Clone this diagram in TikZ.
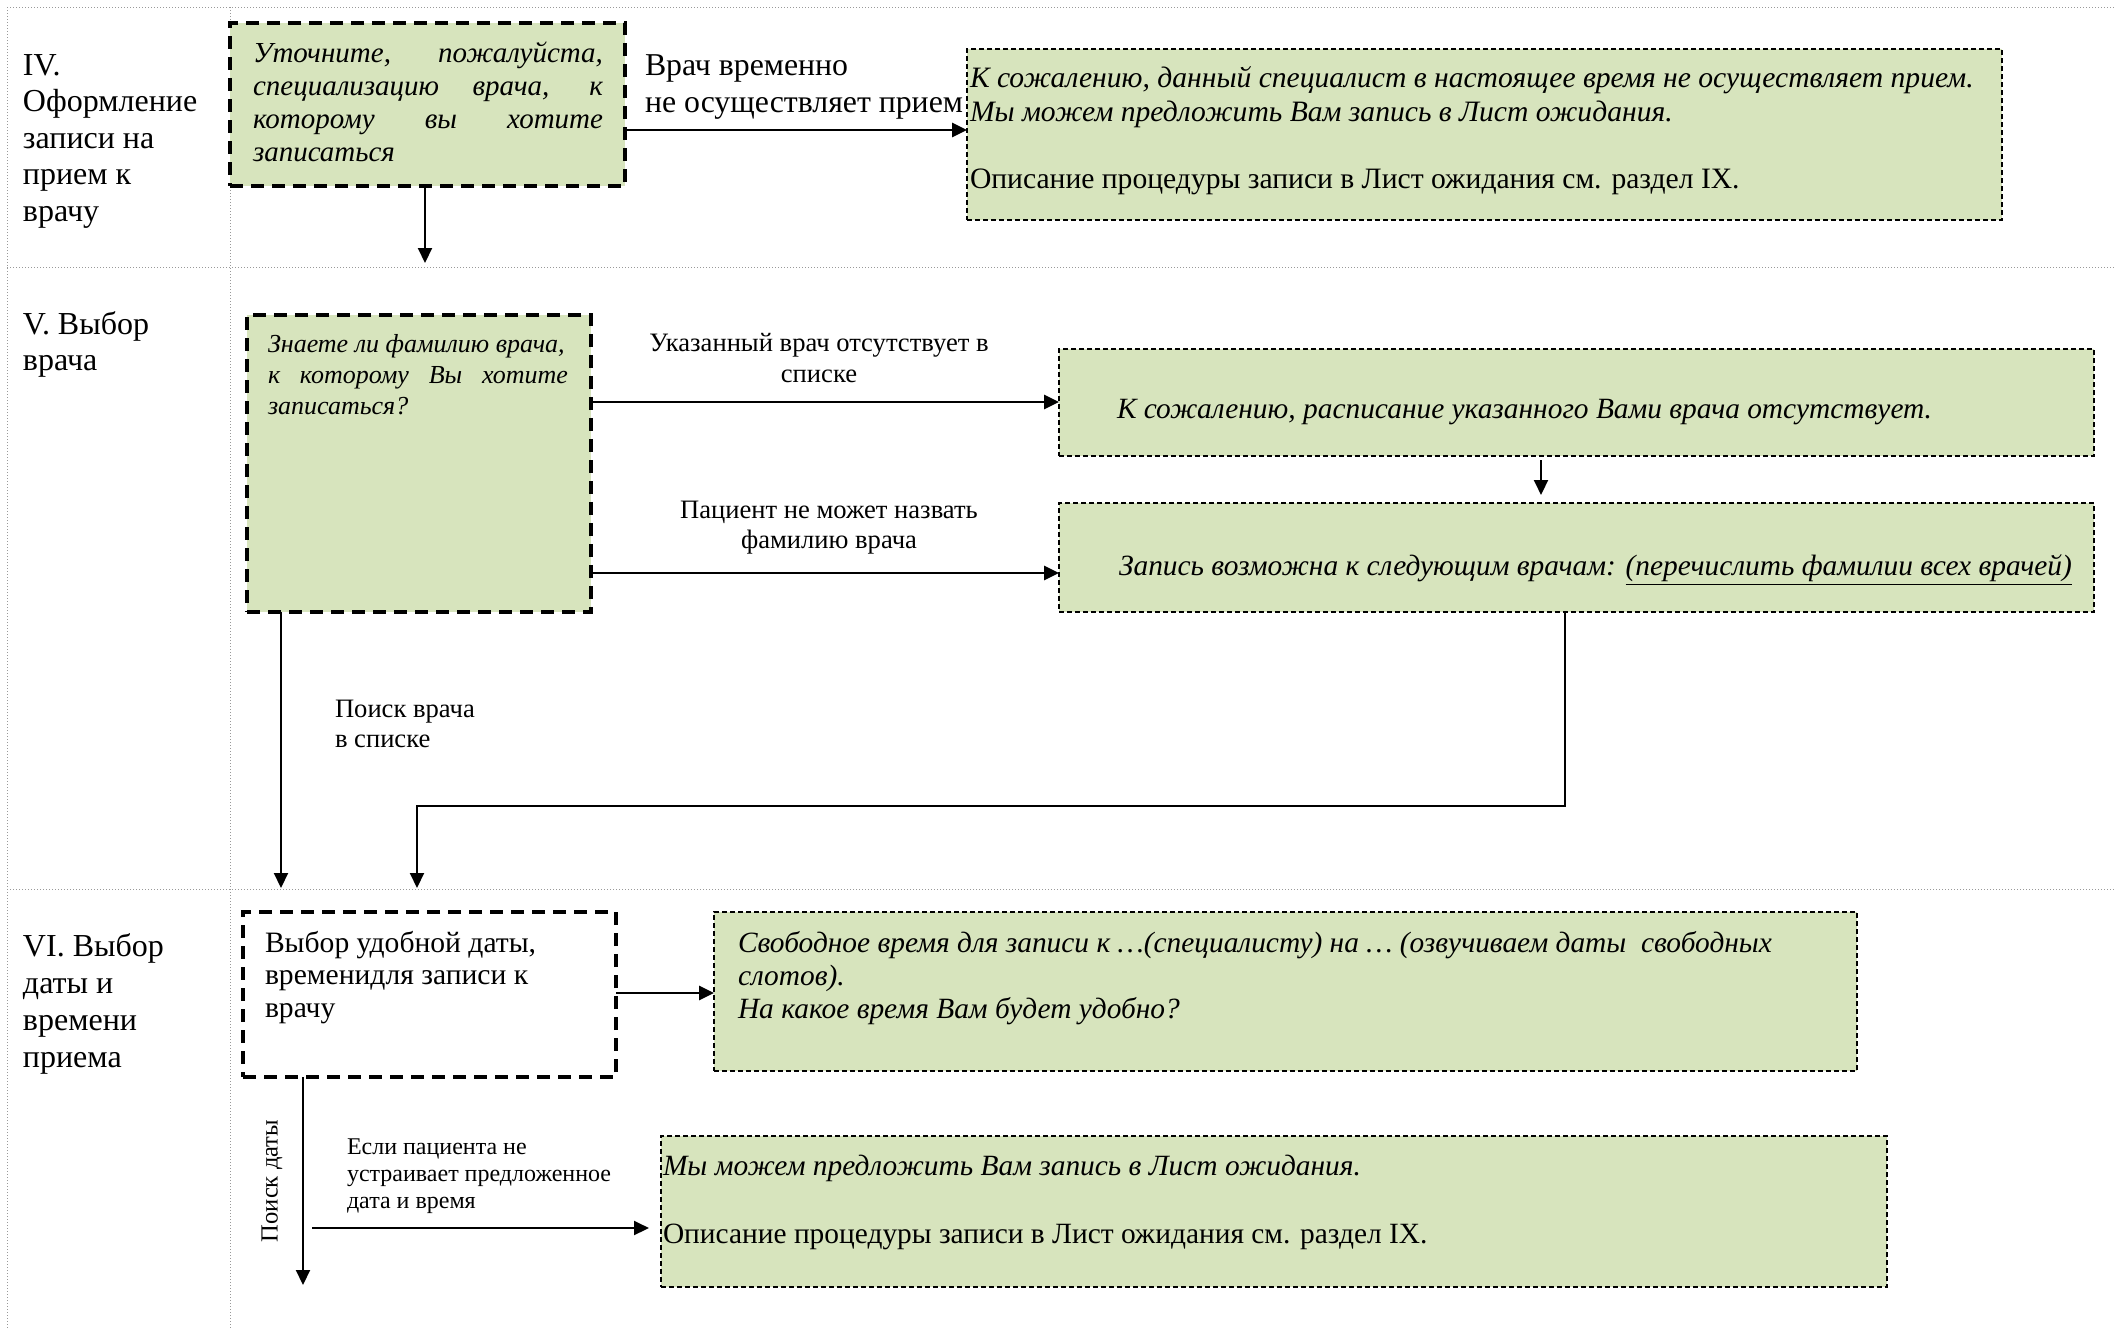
\documentclass[tikz,border=0pt]{standalone}
\usepackage{fontspec}
\setmainfont{Liberation Serif}
\usetikzlibrary{arrows.meta,fit}
\definecolor{boxgreen}{HTML}{D7E4BD}
\newcommand{\fsz}[2]{\fontsize{#1}{#2}\selectfont}

\begin{document}
\begin{tikzpicture}[x=0.5pt,y=-0.5pt,
  gridline/.style={draw=gray!80, line width=0.5pt, densely dotted},
  boldbox/.style={draw=black, line width=1.75pt, dash pattern=on 6.5pt off 4pt, inner sep=0pt, outer sep=0pt},
  thinbox/.style={draw=black, line width=0.75pt, dash pattern=on 2.5pt off 1.5pt, inner sep=0pt, outer sep=0pt, fill=boxgreen},
  txt/.style={anchor=base west, inner sep=0pt, outer sep=0pt},
  ctxt/.style={anchor=base, inner sep=0pt, outer sep=0pt},
  arr/.style={-{Triangle[length=7.5pt,width=7pt]}, line width=1pt},
  harr/.style={arr, line width=1.4pt}
]
\useasboundingbox (0,0) rectangle (2114,1329);

% table grid
\draw[gridline] (7,7) -- (2114,7);
\draw[gridline] (7,267) -- (2114,267);
\draw[gridline] (7,889) -- (2114,889);
\draw[gridline] (7,7) -- (7,1329);
\draw[gridline] (230,7) -- (230,1329);

% section titles
\node[txt] (s4) at (23,75) {\parbox[t]{200pt}{\fsz{16}{18.25}IV.\\Оформление\\записи на\\прием к\\врачу}};
\node[txt] (s5) at (23,334) {\parbox[t]{200pt}{\fsz{16}{18}V. Выбор\\врача}};
\node[txt] (s6) at (23,956) {\parbox[t]{200pt}{\fsz{16}{18.5}VI. Выбор\\даты и\\времени\\приема}};

% boxes
\node[boldbox, fill=boxgreen, fit={(230,23) (625,186)}] (b1) {};
\node[thinbox, fit={(967,49) (2002,220)}] (b2) {};
\node[boldbox, fill=boxgreen, fit={(247,315) (591,612)}] (b3) {};
\node[thinbox, fit={(1059,349) (2094,456)}] (b4) {};
\node[thinbox, fit={(1059,503) (2094,612)}] (b5) {};
\node[boldbox, fit={(243,912) (616,1077)}] (b6) {};
\node[thinbox, fit={(714,912) (1857,1071)}] (b7) {};
\node[thinbox, fit={(661,1136) (1887,1287)}] (b8) {};

% box texts
\node[txt] (t1) at (253,62) {\parbox[t]{175pt}{\fsz{14.5}{16.6}\itshape
  \makebox[\linewidth][s]{Уточните, пожалуйста,}\\
  \makebox[\linewidth][s]{специализацию врача, к}\\
  \makebox[\linewidth][s]{которому вы хотите}\\
  записаться}};
\node[txt] (t2) at (970,87) {\parbox[t]{540pt}{\fsz{14.8}{17}%
  \textit{К сожалению, данный специалист в настоящее время не осуществляет прием.}\\
  \textit{Мы можем предложить Вам запись в Лист ожидания.}\\[16.5pt]
  Описание процедуры записи в Лист ожидания см. раздел IX.}};
\node[txt] (t3) at (268,352) {\parbox[t]{150pt}{\fsz{13}{15.5}\itshape
  Знаете ли фамилию врача,\\
  \makebox[\linewidth][s]{к которому Вы хотите}\\
  записаться?}};
\node[txt] (t4) at (1117,418) {\fsz{14.7}{16}\itshape К сожалению, расписание указанного Вами врача отсутствует.};
\node[txt] (t5) at (1119,575) {\fsz{14.7}{16}\itshape Запись возможна к следующим врачам: \underline{(перечислить фамилии всех врачей)}};
\node[txt] (t6) at (265,952) {\parbox[t]{190pt}{\fsz{14.8}{16.25}Выбор удобной даты,\\временидля записи к\\врачу}};
\node[txt] (t7) at (738,952) {\parbox[t]{580pt}{\fsz{14.7}{16.6}\itshape
  Свободное время для записи к …(специалисту) на … (озвучиваем даты~ свободных\\
  слотов).\\
  На какое время Вам будет удобно?}};
\node[txt] (t8) at (663,1175) {\parbox[t]{600pt}{\fsz{14.7}{17}%
  \textit{Мы можем предложить Вам запись в Лист ожидания.}\\[17pt]
  Описание процедуры записи в Лист ожидания см. раздел IX.}};

% connector labels
\node[txt] (l1) at (645,75) {\parbox[t]{200pt}{\fsz{15.9}{18.5}Врач временно\\не осуществляет прием}};
\node[ctxt] (l2) at (819,351) {\parbox[t]{220pt}{\centering\fsz{13.3}{15.5}Указанный врач отсутствует в\\списке}};
\node[ctxt] (l3) at (829,518) {\parbox[t]{220pt}{\centering\fsz{13.3}{15}Пациент не может назвать\\фамилию врача}};
\node[txt] (l4) at (335,717) {\parbox[t]{120pt}{\fsz{13.3}{15}Поиск врача\\в списке}};
\node[txt] (l5) at (347,1154) {\parbox[t]{160pt}{\fsz{12}{13.5}Если пациента не\\устраивает предложенное\\дата и время}};
\node[inner sep=0pt, rotate=90, font=\fsz{12.3}{14}] (l6) at (272,1181) {Поиск даты};

% connectors
\coordinate (e1) at (425,263);
\draw[arr] (b1.south -| e1) -- (e1);
\draw[harr] (b1.east |- 0,130) -- (b2.west |- 0,130);

\draw[harr] (b3.east |- 0,402) -- (b4.west |- 0,402);
\draw[harr] (b3.east |- 0,573) -- (b5.west |- 0,573);

\coordinate (e5) at (1541,495);
\draw[arr] ([yshift=-2pt]b4.south -| e5) -- (e5);

\coordinate (e6) at (417,888);
\draw[arr] (b5.south -| 1565,0) |- (417,806) -- (e6);

\coordinate (e7) at (281,888);
\draw[arr] (b3.south -| e7) -- (e7);

\draw[harr] (b6.east |- 0,993) -- (b7.west |- 0,993);

\coordinate (e9) at (303,1285);
\draw[arr] (b6.south -| e9) -- (e9);

\coordinate (s10) at (312,1228);
\draw[arr, shorten >=6pt] (s10) -- (b8.west |- s10);
\end{tikzpicture}
\end{document}
